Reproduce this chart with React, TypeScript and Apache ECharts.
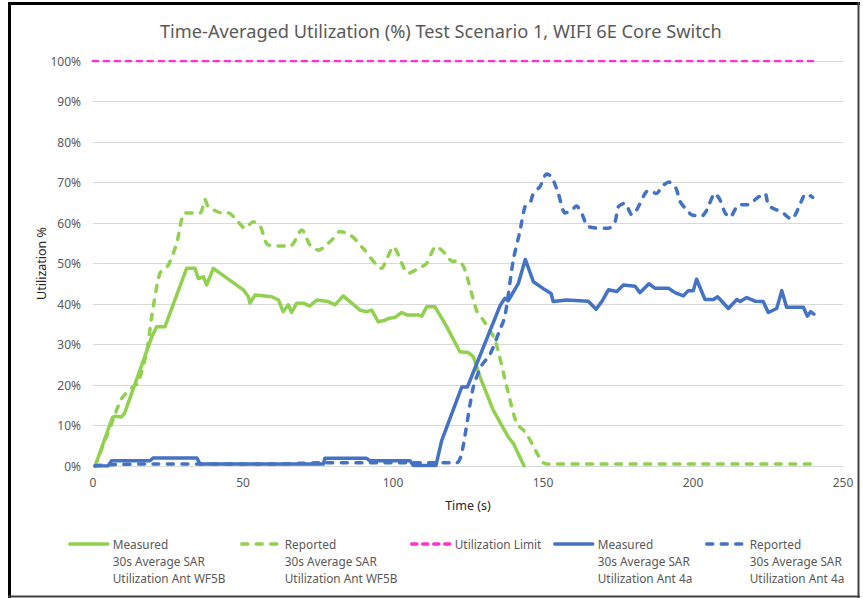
import React, { useEffect, useRef } from "react";
import * as echarts from "echarts";

const titleText = "Time-Averaged Utilization (%) Test Scenario 1, WIFI 6E Core Switch";
const xTicks = [0, 50, 100, 150, 200, 250];
const yTicks = [0, 10, 20, 30, 40, 50, 60, 70, 80, 90, 100];

const seriesNames = [
  "Measured\n30s Average SAR\nUtilization Ant WF5B",
  "Reported\n30s Average SAR\nUtilization Ant WF5B",
  "Utilization Limit",
  "Measured\n30s Average SAR\nUtilization Ant 4a",
  "Reported\n30s Average SAR\nUtilization Ant 4a",
];

// [time (s), utilization %]
const measuredWF5B = [
  [0.7, 0], [6.5, 12], [7.5, 12.3], [9.5, 12.1], [10.5, 13], [19.6, 31.9], [21.2, 34.4], [24, 34.4],
  [31.2, 48.8], [34, 48.8], [35.1, 46.3], [36.8, 46.7], [37.9, 44.7], [40.1, 48.8], [50.1, 43.5],
  [51.8, 41.8], [52.3, 40.2], [54, 42.2], [59.6, 41.8], [61.8, 41], [63.4, 38.1], [65.1, 39.8],
  [66.2, 37.9], [67.9, 40.2], [70.1, 40.2], [72.3, 39.5], [74.6, 41], [78.4, 40.6], [80.7, 39.8],
  [83.4, 42], [89, 38.5], [91.2, 38.1], [92.9, 38.5], [95.1, 35.6], [97.3, 36], [98.4, 36.4],
  [100.7, 36.7], [102.9, 37.9], [104.6, 37.3], [108.4, 37.3], [109.6, 37], [111.2, 39.3], [114, 39.3],
  [117.9, 34.4], [122.3, 28.2], [125.1, 28], [126.8, 27], [129, 22], [133.4, 13.8], [138.4, 7.2],
  [140.1, 5.6], [143.7, 0],
];

const reportedWF5B = [
  [0.7, 0], [6.2, 10.5], [9.6, 16.7], [13.4, 19.6], [15, 20.5], [17.9, 28.2], [19.6, 37], [22.3, 47.6],
  [25.1, 49.6], [27.9, 55], [30.7, 62.5], [35.7, 62.5], [37.3, 65.8], [38.4, 64.1], [42.9, 62.5],
  [45.1, 62.5], [47.9, 60.7], [50.7, 58.7], [53.4, 60.3], [55.7, 59.3], [58.4, 54.6], [65.7, 54.3],
  [69.6, 58.3], [72.3, 54.6], [75.1, 53.3], [79.6, 55.8], [82.3, 57.9], [86.2, 56.8], [90.1, 53.7],
  [96.2, 48.8], [97.8, 50.9], [100.1, 54.1], [105.1, 47.6], [109, 49], [111.2, 50], [114.3, 54.2],
  [116.8, 52.9], [119.6, 50.6], [122.2, 50.5], [124, 48.4], [127.9, 38.3], [130.1, 36], [134, 31.1],
  [137.9, 19.6], [141.2, 10.5], [143.4, 8.9], [145.1, 7.2], [149.6, 1.1], [151.2, 0.5], [240, 0.5],
];

const utilizationLimit = [[0, 100], [240, 100]];

const measured4a = [
  [0.7, 0], [5, 0], [6.2, 1.3], [19, 1.3], [20.1, 2], [34.6, 2], [35.7, 0.5], [76.8, 0.5], [77.3, 1.9],
  [91.2, 1.9], [92.3, 1.3], [105.7, 1.3], [106.8, 0.1], [114.3, 0.1], [116.2, 6.2], [122.9, 19.5],
  [124.8, 19.5], [135.7, 39.6], [137.3, 41.4], [138.4, 40.8], [141.8, 45.1], [144.1, 51], [146.8, 45.5],
  [150.7, 43.5], [152.7, 42.6], [153.4, 40.6], [157.9, 41], [165.1, 40.7], [167.7, 38.7], [169.6, 40.6],
  [171.8, 43.5], [174.6, 43.1], [176.8, 44.7], [180.7, 44.4], [182.3, 42.8], [185.3, 45], [187.3, 43.9],
  [191.8, 43.9], [194, 42.8], [196.8, 42], [198.4, 43.3], [200.1, 43.3], [201.2, 46.1], [204, 41.1],
  [206.8, 41.1], [208.2, 41.8], [211.8, 38.9], [214.6, 41.1], [215.7, 40.6], [217.9, 41.6], [220.7, 40.7],
  [223.4, 40.6], [225.1, 37.9], [227.9, 38.9], [229.6, 43.3], [231.2, 39.2], [236.8, 39.2], [238.1, 37],
  [239.2, 38.1], [240.3, 37.5],
];

const reported4a = [
  [0.7, 0], [5, 0.3], [20, 0.5], [60, 0.5], [77, 0.8], [121.2, 0.8], [122.9, 3.1], [126.8, 19.6],
  [129.6, 24.9], [132.3, 27.5], [135.3, 33], [137.3, 37], [140.1, 50.9], [142.3, 57.9], [144, 64],
  [145.7, 65], [146.8, 67.3], [149, 69], [151.2, 72.1], [152.9, 71.4], [155.1, 67.3], [157.3, 62.5],
  [159, 62.8], [161.2, 64.2], [162.9, 62.4], [165.1, 59.1], [171.8, 58.7], [174, 60.3], [175.1, 64],
  [177.3, 64.9], [179.6, 62], [181.2, 63.2], [185.1, 68], [187.9, 67.3], [189.6, 69], [192, 70.1],
  [194.3, 68.6], [195.7, 65.3], [197.9, 63.2], [199.6, 62], [202.9, 61.7], [204.6, 63.2], [207.3, 67.3],
  [209, 65.7], [210.7, 62.5], [212.3, 61.4], [215.1, 64.4], [219, 64.6], [221.2, 66.1], [224, 67.3],
  [225.1, 64.4], [227.3, 63.4], [229.6, 62.8], [231.2, 61.7], [232.9, 60.9], [235.1, 63.6], [236.8, 66.5],
  [237.9, 67.2], [239.9, 66.3],
];

const GREEN = "#92D050";
const BLUE = "#4472C4";
const MAGENTA = "#FF33CC";
const FONT = "'Noto Sans', sans-serif";
const legendLefts = [68, 240, 410, 553, 705];

export default function App() {
  const ref = useRef<HTMLDivElement>(null);
  useEffect(() => {
    const chart = echarts.init(ref.current!, null, { renderer: "svg" });
    const dash = [6, 8.5];
    const mk = (name: string, data: number[][], color: string, dashed: boolean, width = 3.5, dashArr = dash) => ({
      name,
      type: "line",
      data,
      symbol: "none",
      smooth: dashed ? 0.25 : false,
      lineStyle: { color, width, type: dashed ? dashArr : "solid", cap: "round", join: "round" },
      itemStyle: { color },
      emphasis: { disabled: true },
    });
    const legends = seriesNames.map((n, i) => {
      const multi = n.indexOf("\n") >= 0;
      return {
        data: [n],
        left: legendLefts[i],
        top: multi ? 501.5 : 535.5,
        padding: 0,
        itemWidth: 38,
        itemHeight: 14,
        selectedMode: false,
        itemStyle: { opacity: 0 },
        lineStyle: { width: 3.5 },
        formatter: (name: string) => (name.indexOf("\n") >= 0 ? "\n\n" + name : name),
        textStyle: {
          fontFamily: FONT,
          fontSize: 11.8,
          color: "#595959",
          lineHeight: 17,
        },
      };
    });
    chart.setOption({
      animation: false,
      title: {
        text: titleText,
        left: 155,
        top: 17,
        textStyle: { fontFamily: FONT, fontSize: 18.2, fontWeight: "normal", color: "#595959" },
      },
      legend: legends,
      grid: { left: 93, right: 20, top: 61, bottom: 132, containLabel: false },
      xAxis: {
        type: "value",
        min: xTicks[0],
        max: xTicks[xTicks.length - 1],
        interval: 50,
        name: "Time (s)",
        nameLocation: "middle",
        nameGap: 33,
        nameMoveOverlap: false,
        nameTextStyle: { fontFamily: FONT, fontSize: 12.5, color: "#262626" },
        axisLine: { show: false },
        axisTick: { show: false },
        splitLine: { show: false },
        axisLabel: { fontFamily: FONT, fontSize: 12, color: "#595959", margin: 10 },
      },
      yAxis: {
        type: "value",
        min: yTicks[0],
        max: yTicks[yTicks.length - 1],
        interval: 10,
        name: "Utilization %",
        nameLocation: "middle",
        nameGap: 45,
        nameMoveOverlap: false,
        nameRotate: 90,
        nameTextStyle: { fontFamily: FONT, fontSize: 12.5, color: "#262626" },
        axisLine: { show: false },
        axisTick: { show: false },
        splitLine: { show: true, lineStyle: { color: "#D9D9D9", width: 1 } },
        axisLabel: { fontFamily: FONT, fontSize: 12, color: "#595959", margin: 12, formatter: "{value}%" },
      },
      series: [
        mk(seriesNames[0], measuredWF5B, GREEN, false),
        mk(seriesNames[1], reportedWF5B, GREEN, true),
        mk(seriesNames[2], utilizationLimit, MAGENTA, true, 2.5, [5, 6]),
        mk(seriesNames[3], measured4a, BLUE, false),
        mk(seriesNames[4], reported4a, BLUE, true),
      ],
      graphic: [
        { type: "line", shape: { x1: 9.5, y1: 2, x2: 9.5, y2: 598 }, style: { stroke: "#000", lineWidth: 3 } },
        { type: "line", shape: { x1: 8, y1: 3.5, x2: 860, y2: 3.5 }, style: { stroke: "#000", lineWidth: 3 } },
        { type: "line", shape: { x1: 858.5, y1: 2, x2: 858.5, y2: 598 }, style: { stroke: "#404040", lineWidth: 2 } },
        { type: "line", shape: { x1: 8, y1: 596.5, x2: 860, y2: 596.5 }, style: { stroke: "#404040", lineWidth: 2 } },
      ],
    });
    return () => chart.dispose();
  }, []);
  return (
    <div
      ref={ref}
      style={{ position: "fixed", left: 0, top: 0, width: 863, height: 598, background: "#fff" }}
    />
  );
}
